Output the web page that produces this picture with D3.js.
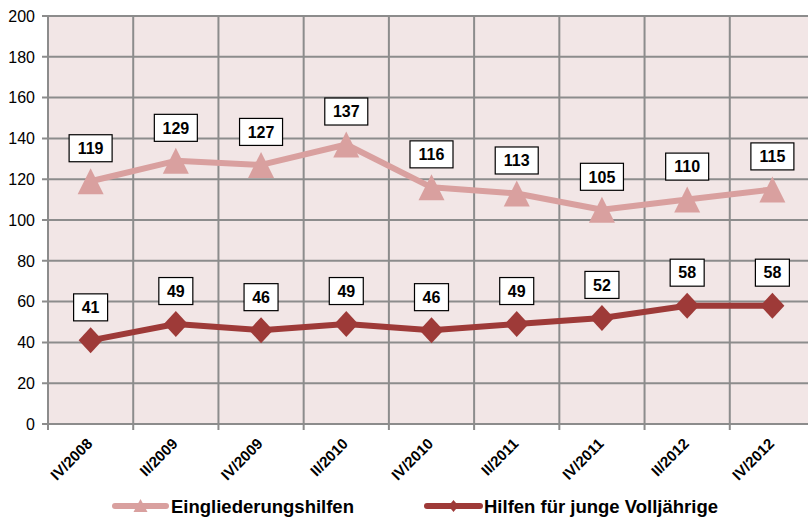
<!DOCTYPE html>
<html><head><meta charset="utf-8">
<script src="https://cdn.jsdelivr.net/npm/d3@7"></script>
<style>body{margin:0;background:#fff}svg{display:block}</style>
</head><body>
<svg id="c" width="808" height="521"></svg>
<script>
const categories = ["IV/2008","II/2009","IV/2009","II/2010","IV/2010","II/2011","IV/2011","II/2012","IV/2012"];
const eingliederung = [119,129,127,137,116,113,105,110,115];
const volljaehrige = [41,49,46,49,46,49,52,58,58];
const yTicks = [0,20,40,60,80,100,120,140,160,180,200];
const seriesNames = ["Eingliederungshilfen","Hilfen für junge Volljährige"];

const svg = d3.select("#c");
const L = 48, R = 815, T = 16, B = 424;
const x = d3.scaleBand().domain(categories).range([L, R]);
const y = d3.scaleLinear().domain([0, 200]).range([B, T]);
const grid = "#8c8c8c";
const font = "'Liberation Sans', Arial, sans-serif";

svg.append("rect").attr("x", L).attr("y", T).attr("width", R - L).attr("height", B - T).attr("fill", "#f2e6e6");

svg.append("g").selectAll("line").data(yTicks).join("line")
  .attr("x1", L - 6).attr("x2", R).attr("y1", d => y(d)).attr("y2", d => y(d))
  .attr("stroke", grid).attr("stroke-width", 2);
const bounds = categories.map(c => x(c)).concat([R]);
svg.append("g").selectAll("line").data(bounds).join("line")
  .attr("x1", d => d).attr("x2", d => d).attr("y1", T).attr("y2", B + 6)
  .attr("stroke", grid).attr("stroke-width", 2);

svg.append("g").selectAll("text").data(yTicks).join("text")
  .attr("x", 35).attr("y", d => y(d)).attr("dy", "0.36em").attr("text-anchor", "end")
  .attr("font-family", font).attr("font-size", 16).attr("fill", "#000").text(d => d);

const cx = c => x(c) + x.bandwidth() / 2;
svg.append("g").selectAll("text").data(categories).join("text")
  .attr("transform", c => `translate(${cx(c) - 1},${B + 17}) rotate(-45)`)
  .attr("text-anchor", "end").attr("dy", "0.35em")
  .attr("font-family", font).attr("font-size", 15).attr("font-weight", "bold").text(c => c);

const triPath = "M0,-13L13,13L-13,13Z";
const diaPath = "M0,-13L12,0L0,13L-12,0Z";
const series = [
  {name: seriesNames[0], vals: eingliederung, color: "#d9a09f", path: triPath, lpath: "M0,-7L7,6L-7,6Z"},
  {name: seriesNames[1], vals: volljaehrige, color: "#9e3a38", path: diaPath, lpath: "M0,-6L5,0L0,6L-5,0Z"}
];

const line = d3.line().x((d, i) => cx(categories[i])).y(d => y(d));
series.forEach(s => {
  svg.append("path").datum(s.vals).attr("d", line).attr("fill", "none")
    .attr("stroke", s.color).attr("stroke-width", 6).attr("stroke-linejoin", "round");
  svg.append("g").selectAll("path").data(s.vals).join("path")
    .attr("transform", (d, i) => `translate(${cx(categories[i])},${y(d)})`)
    .attr("d", s.path).attr("fill", s.color);
});

series.forEach(s => {
  const g = svg.append("g").selectAll("g").data(s.vals).join("g")
    .attr("transform", (d, i) => `translate(${cx(categories[i])},${y(d) - 33})`);
  g.append("rect")
    .attr("x", d => String(d).length > 2 ? -21.5 : -17)
    .attr("width", d => String(d).length > 2 ? 43 : 34)
    .attr("y", -13.5).attr("height", 27)
    .attr("fill", "#fff").attr("stroke", "#000").attr("stroke-width", 1.2);
  g.append("text").attr("text-anchor", "middle").attr("dy", "0.36em")
    .attr("font-family", font).attr("font-size", 16).attr("font-weight", "bold").text(d => d);
});

const leg = [{s: series[0], x1: 115, x2: 166, tx: 171}, {s: series[1], x1: 427, x2: 480, tx: 484}];
leg.forEach(l => {
  const ly = 506;
  svg.append("line").attr("x1", l.x1).attr("x2", l.x2).attr("y1", ly).attr("y2", ly)
    .attr("stroke", l.s.color).attr("stroke-width", 6).attr("stroke-linecap", "round");
  svg.append("path").attr("transform", `translate(${(l.x1 + l.x2) / 2},${ly})`)
    .attr("d", l.s.lpath).attr("fill", l.s.color);
  svg.append("text").attr("x", l.tx).attr("y", ly).attr("dy", "0.36em")
    .attr("font-family", font).attr("font-size", 18.5).attr("font-weight", "bold").text(l.s.name);
});
</script>
</body></html>
